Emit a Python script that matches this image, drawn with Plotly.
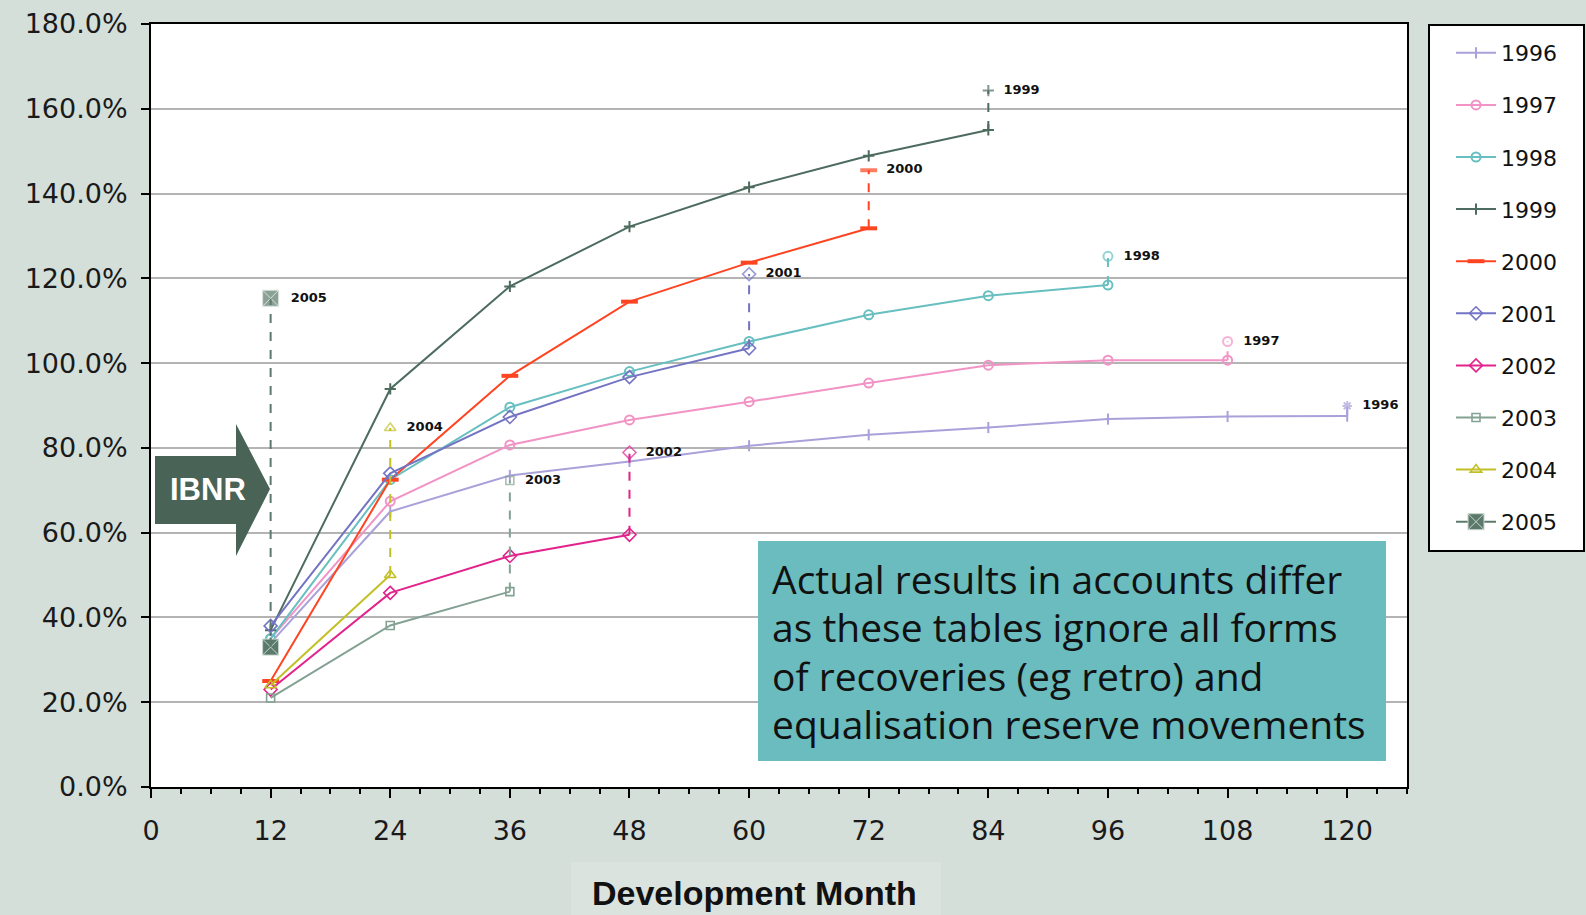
import plotly.graph_objects as go

# ---- data: cumulative loss ratio (%) by development month, per underwriting year ----
dev_months = [12, 24, 36, 48, 60, 72, 84, 96, 108, 120]
years = ["1996", "1997", "1998", "1999", "2000", "2001", "2002", "2003", "2004", "2005"]

lr_1996 = [34.0, 65.0, 73.5, 76.8, 80.5, 83.1, 84.8, 86.8, 87.4, 87.5]
lr_1997 = [35.0, 67.4, 80.7, 86.6, 90.9, 95.3, 99.5, 100.7, 100.7]
lr_1998 = [35.0, 72.5, 89.6, 98.0, 105.1, 111.4, 115.9, 118.4]
lr_1999 = [37.0, 93.9, 118.1, 132.2, 141.5, 148.9, 155.0]
lr_2000 = [25.0, 72.5, 97.0, 114.5, 123.7, 131.8]
lr_2001 = [38.0, 74.0, 87.3, 96.7, 103.5]
lr_2002 = [23.0, 45.8, 54.5, 59.5]
lr_2003 = [21.0, 38.1, 46.1]
lr_2004 = [24.0, 50.0]
lr_2005 = [33.0]

# projected ultimate loss ratio (%) including IBNR, in the same order as `years`
projected_ultimate = [89.9, 105.1, 125.2, 164.3, 145.5, 121.0, 78.9, 72.3, 84.7, 115.3]

y_ticks = [0, 20, 40, 60, 80, 100, 120, 140, 160, 180]
x_ticks = [0, 12, 24, 36, 48, 60, 72, 84, 96, 108, 120]

note_lines = ["Actual results in accounts differ",
              "as these tables ignore all forms",
              "of recoveries (eg retro) and",
              "equalisation reserve movements"]

series = [lr_1996, lr_1997, lr_1998, lr_1999, lr_2000,
          lr_2001, lr_2002, lr_2003, lr_2004, lr_2005]

# ---- styling per year ----
colors = ["#a9a1d9", "#f293c6", "#67bfc0", "#4d6b5e", "#ff4422",
          "#7474c4", "#e2238c", "#84a294", "#c2c024", "#5b7a6b"]
symbols = ["line-ns-open", "circle-open", "circle-open", "cross-thin-open", "line-ew-open",
           "diamond-open", "diamond-open", "square-open", "triangle-up-open", "square-x"]
sizes = [8, 9, 9, 8, 12, 10, 10, 8, 10, 16]
mk_widths = [2, 2, 2, 2, 4, 1.6, 1.6, 1.6, 1.6, 1]

W, H = 1586, 915
L, R, T, B = 151, 1407, 24, 787   # plot area in pixels


def px(x):
    return (x - L) / (R - L)


def py(y):
    return (B - y) / (B - T)


fig = go.Figure()

# actual development lines
for yr, vals, c, s, sz, mw in zip(years, series, colors, symbols, sizes, mk_widths):
    marker = dict(symbol=s, size=sz, color=c, line=dict(width=mw, color=c))
    if s == "square-x":
        marker = dict(symbol=s, size=sz, color=c, line=dict(width=1, color="#c9d6cf"))
    fig.add_trace(go.Scatter(
        x=dev_months[:len(vals)], y=vals, name=yr, legendgroup=yr,
        mode="lines+markers", line=dict(color=c, width=2), marker=marker,
    ))

# dashed jump from latest actual point to projected ultimate, labelled with the year
for yr, vals, c, s, sz, mw, ult in zip(years, series, colors, symbols, sizes, mk_widths, projected_ultimate):
    last_x = dev_months[len(vals) - 1]
    proj_symbol = "asterisk-open" if yr == "1996" else s
    marker = dict(symbol=[s, proj_symbol], size=[0, sz], color=c, line=dict(width=mw, color=c))
    if s == "square-x":
        marker = dict(symbol=s, size=[0, sz], color=c, line=dict(width=1, color="#c9d6cf"))
    fig.add_trace(go.Scatter(
        x=[last_x, last_x], y=[vals[-1], ult], legendgroup=yr, showlegend=False,
        mode="lines+markers+text", line=dict(color=c, width=2, dash="dash"),
        marker=marker, text=["", "  " + yr], textposition="middle right",
        textfont=dict(family="DejaVu Sans", size=13, color="#111111", weight="bold"),
        cliponaxis=False,
    ))

shapes = []
# lighter panel behind axis title
shapes.append(dict(type="rect", xref="paper", yref="paper", layer="below",
                   x0=px(571), x1=px(941), y0=py(915), y1=py(862),
                   fillcolor="#dae3de", line=dict(width=0)))
# legend frame
shapes.append(dict(type="rect", xref="paper", yref="paper",
                   x0=px(1429), x1=px(1584), y0=py(551), y1=py(25),
                   fillcolor="white", line=dict(color="black", width=2), layer="below"))
# IBNR arrow
arrow = [(155, 456), (236, 456), (236, 424), (270, 489), (236, 556), (236, 524), (155, 524)]
path = "M " + " L ".join(f"{px(a):.5f},{py(b):.5f}" for a, b in arrow) + " Z"
shapes.append(dict(type="path", xref="paper", yref="paper", path=path,
                   fillcolor="#4a6357", line=dict(width=0)))
# note box
shapes.append(dict(type="rect", xref="paper", yref="paper",
                   x0=px(758), x1=px(1386), y0=py(761), y1=py(541),
                   fillcolor="#6bbcbe", line=dict(width=0)))

annotations = [
    dict(x=px(208), y=py(489), xref="paper", yref="paper", text="<b>IBNR</b>",
         xanchor="center", yanchor="middle",
         showarrow=False, font=dict(family="Liberation Sans, Arial", size=31, color="white")),
    dict(x=px(754), y=py(893), xref="paper", yref="paper", text="<b>Development Month</b>",
         xanchor="center", yanchor="middle",
         showarrow=False, font=dict(family="Liberation Sans, Arial", size=34, color="#111111")),
]
# note text, one annotation per line for tight leading
for i, line in enumerate(note_lines):
    annotations.append(dict(
        x=px(770), y=py(578 + i * 48.6), xref="paper", yref="paper",
        xanchor="left", yanchor="middle", align="left", showarrow=False, text=line,
        font=dict(family="Open Sans", size=39, color="#111111")))

fig.update_layout(
    width=W, height=H,
    margin=dict(l=L, r=W - R, t=T, b=H - B, autoexpand=False),
    paper_bgcolor="#d5dfda", plot_bgcolor="white",
    showlegend=True,
    legend=dict(x=px(1451), y=py(32), xanchor="left", yanchor="top",
                bgcolor="rgba(0,0,0,0)", borderwidth=0,
                font=dict(family="DejaVu Sans", size=22, color="#111111"),
                itemwidth=40, tracegroupgap=20.5),
    shapes=shapes, annotations=annotations,
    xaxis=dict(range=[0, 126], tickvals=x_ticks, ticktext=[str(v) for v in x_ticks],
               showgrid=False, zeroline=False, showline=True, linecolor="black", linewidth=2,
               ticks="outside", ticklen=9, tickwidth=2, tickcolor="black",
               ticklabelstandoff=10,
               minor=dict(dtick=3, ticks="outside", ticklen=5, tickwidth=1.5, tickcolor="black",
                          showgrid=False),
               tickfont=dict(family="DejaVu Sans", size=27, color="#1a1a1a"),
               mirror=True),
    yaxis=dict(range=[0, 180], tickvals=y_ticks, ticktext=[f"{v:.1f}%" for v in y_ticks],
               showgrid=True, gridcolor="#b4b4b4", gridwidth=2, zeroline=False,
               showline=True, linecolor="black", linewidth=2,
               ticks="outside", ticklen=8, tickwidth=2, tickcolor="black",
               ticklabelstandoff=8,
               tickfont=dict(family="DejaVu Sans", size=27, color="#1a1a1a"),
               mirror=True),
)

fig.write_html("out.html")
